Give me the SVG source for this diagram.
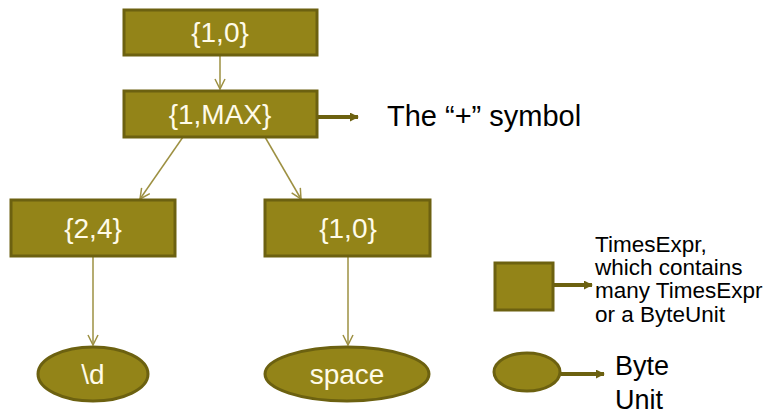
<svg xmlns="http://www.w3.org/2000/svg" width="764" height="414" viewBox="0 0 764 414">
  <style>
    .node { fill: #938418; stroke: #6c6110; stroke-width: 3; }
    .lbl { font-family: "Liberation Sans", Arial, sans-serif; font-size: 28px; fill: #fffbe8; text-anchor: middle; }
    .edge { stroke: #9d9042; stroke-width: 1.5; fill: none; marker-end: url(#thin); }
    .bold { stroke: #6c6110; stroke-width: 4; fill: none; marker-end: url(#thick); }
    .txt { font-family: "Liberation Sans", Arial, sans-serif; fill: #000; }
  </style>
  <defs>
    <marker id="thin" viewBox="0 0 12 12" refX="11" refY="6" markerWidth="12" markerHeight="12" markerUnits="userSpaceOnUse" orient="auto">
      <path d="M1,1 L11,6 L1,11" fill="none" stroke="#9d9042" stroke-width="1.5"/>
    </marker>
    <marker id="thick" viewBox="0 0 10 10" refX="9" refY="5" markerWidth="9" markerHeight="9" markerUnits="userSpaceOnUse" orient="auto">
      <path d="M0,0 L10,5 L0,10 Z" fill="#6c6110"/>
    </marker>
  </defs>

  <g id="connectors">
    <line class="edge" x1="220" y1="55" x2="220" y2="89"/>
    <line class="edge" x1="183" y1="137" x2="140" y2="199"/>
    <line class="edge" x1="265" y1="137" x2="301" y2="199"/>
    <line class="edge" x1="93" y1="256" x2="93" y2="345"/>
    <line class="edge" x1="348" y1="256" x2="348" y2="345"/>
    <line class="bold" x1="318" y1="117" x2="358" y2="117"/>
    <line class="bold" x1="554" y1="285" x2="592" y2="285"/>
    <line class="bold" x1="561" y1="374" x2="604" y2="374"/>
  </g>

  <g id="n-top">
    <rect class="node" x="124" y="10" width="193" height="45"/>
    <text class="lbl" x="220" y="42">{1,0}</text>
  </g>
  <g id="n-plus">
    <rect class="node" x="124" y="91" width="193" height="46"/>
    <text class="lbl" x="220" y="124">{1,MAX}</text>
  </g>
  <g id="n-digits">
    <rect class="node" x="11" y="200" width="164" height="56"/>
    <text class="lbl" x="93" y="238">{2,4}</text>
  </g>
  <g id="n-opt">
    <rect class="node" x="265" y="200" width="165" height="56"/>
    <text class="lbl" x="348" y="238">{1,0}</text>
  </g>
  <g id="n-d">
    <ellipse class="node" cx="93" cy="374" rx="55" ry="27"/>
    <text class="lbl" x="93" y="384">\d</text>
  </g>
  <g id="n-space">
    <ellipse class="node" cx="347" cy="374" rx="82" ry="27"/>
    <text class="lbl" x="347" y="384">space</text>
  </g>

  <g id="note-plus">
    <text class="txt" x="387" y="126" font-size="29">The “+” symbol</text>
  </g>

  <g id="legend-times">
    <rect class="node" x="495" y="263" width="58" height="47"/>
    <text class="txt" font-size="22.5">
      <tspan x="595" y="252">TimesExpr,</tspan>
      <tspan x="595" y="275">which contains</tspan>
      <tspan x="595" y="298">many TimesExpr</tspan>
      <tspan x="595" y="322">or a ByteUnit</tspan>
    </text>
  </g>
  <g id="legend-byte">
    <ellipse class="node" cx="527" cy="372" rx="33" ry="19"/>
    <text class="txt" font-size="27">
      <tspan x="615" y="375">Byte</tspan>
      <tspan x="615" y="409">Unit</tspan>
    </text>
  </g>
</svg>
